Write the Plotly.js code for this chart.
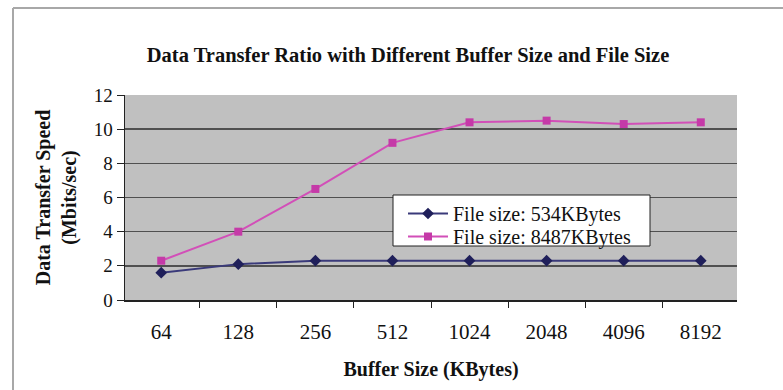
<!DOCTYPE html>
<html>
<head>
<meta charset="utf-8">
<script src="https://cdn.plot.ly/plotly-3.0.1.min.js"></script>
<style>html,body{margin:0;padding:0;background:#fff;}#chart{width:783px;height:390px;}</style>
</head>
<body>
<div id="chart"></div>
<script>
const bufferSizes = ["64", "128", "256", "512", "1024", "2048", "4096", "8192"];
const speed534 = [1.6, 2.1, 2.3, 2.3, 2.3, 2.3, 2.3, 2.3];
const speed8487 = [2.3, 4.0, 6.5, 9.2, 10.4, 10.5, 10.3, 10.4];
const seriesNames = ["File size: 534KBytes", "File size: 8487KBytes"];

const serif = "Liberation Serif, Times New Roman, serif";
const L = 125, R = 46, T = 95, B = 90, W = 783, H = 390;
const pw = W - L - R, ph = H - T - B;
const px = v => (v - L) / pw;
const py = v => (H - B - v) / ph;

const traces = [
  {x: bufferSizes, y: speed534, name: seriesNames[0], type: "scatter", mode: "lines+markers", legend: "legend",
   line: {color: "#3a3a7a", width: 2}, marker: {symbol: "diamond", size: 9, color: "#1f1f5a"}},
  {x: bufferSizes, y: speed8487, name: seriesNames[1], type: "scatter", mode: "lines+markers", legend: "legend2",
   line: {color: "#d24fb8", width: 2}, marker: {symbol: "square", size: 8, color: "#c53aa8"}}
];

const legendBase = {xanchor: "left", yanchor: "top", bgcolor: "rgba(0,0,0,0)", borderwidth: 0,
                    font: {family: serif, size: 20, color: "#111"}, itemwidth: 40};

const layout = {
  width: W, height: H,
  margin: {l: L, r: R, t: T, b: B},
  paper_bgcolor: "#ffffff",
  plot_bgcolor: "#c0c0c0",
  font: {family: serif, color: "#111"},
  showlegend: true,
  title: {text: "<b>Data Transfer Ratio with Different Buffer Size and File Size</b>",
          font: {family: serif, size: 20.5, color: "#111"},
          x: px(408), xref: "paper", xanchor: "center", y: 1 - 55 / H, yref: "container", yanchor: "middle"},
  xaxis: {type: "category", tickson: "boundaries", ticks: "outside", ticklen: 6, tickcolor: "#222",
          showline: true, linecolor: "#222", linewidth: 1.5, showgrid: false, zeroline: false,
          ticklabelstandoff: 12,
          tickfont: {family: serif, size: 21, color: "#111"},
          title: {text: "<b>Buffer Size (KBytes)</b>", font: {family: serif, size: 20, color: "#111"}, standoff: 19},
          automargin: false, fixedrange: true},
  yaxis: {range: [0, 12], dtick: 2, ticks: "outside", ticklen: 7, tickcolor: "#222",
          showline: true, linecolor: "#222", linewidth: 1.5,
          showgrid: true, gridcolor: "#505050", gridwidth: 1.5, zeroline: false,
          tickfont: {family: serif, size: 19, color: "#111"},
          title: {text: "<b>Data Transfer Speed<br>(Mbits/sec)</b>", font: {family: serif, size: 20, color: "#111"}, standoff: 11},
          automargin: false, fixedrange: true},
  legend: Object.assign({}, legendBase, {x: px(403), y: py(194)}),
  legend2: Object.assign({}, legendBase, {x: px(403), y: py(217)}),
  shapes: [
    {type: "rect", xref: "paper", yref: "paper", layer: "above", x0: px(393), x1: px(650), y0: py(195), y1: py(246),
     fillcolor: "#ffffff", line: {color: "#222", width: 1}},
    {type: "line", xref: "paper", yref: "paper", x0: px(13), x1: px(13), y0: py(8), y1: py(392),
     line: {color: "#a8a8a8", width: 2}},
    {type: "line", xref: "paper", yref: "paper", x0: px(13), x1: px(790), y0: py(8), y1: py(8),
     line: {color: "#a8a8a8", width: 2}}
  ]
};

Plotly.newPlot("chart", traces, layout, {displayModeBar: false, staticPlot: true});
</script>
</body>
</html>
